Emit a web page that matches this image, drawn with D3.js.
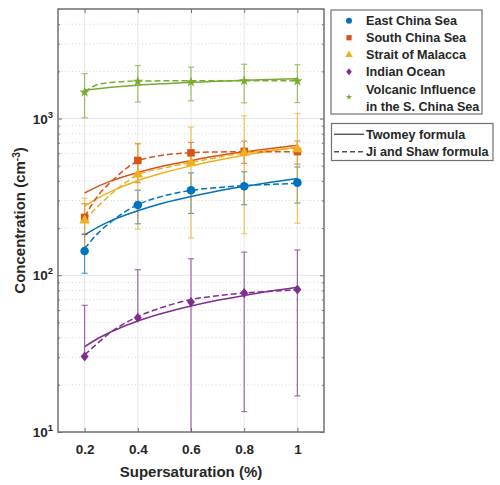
<!DOCTYPE html>
<html>
<head>
<meta charset="utf-8">
<script src="https://cdn.jsdelivr.net/npm/d3@7"></script>
<style>
  body { margin: 0; background: #fff; }
  svg text { font-family: "Liberation Sans", Arial, Helvetica, sans-serif; font-weight: bold; fill: #262626; }
</style>
</head>
<body>
<div id="plot"></div>
<script>
const SS = [0.2, 0.4, 0.6, 0.8, 1.0];
const NAMES = ["East China Sea", "South China Sea", "Strait of Malacca", "Indian Ocean", "Volcanic Influence"];
const COLORS = ["#0072BD", "#D95319", "#EDB120", "#7E2F8E", "#77AC30"];
const SHAPES = ["circle", "square", "triangle", "diamond", "star"];

// measured means and +/- errors
const eastMean = [143, 281, 349, 370, 390];
const eastErr = [40, 68, 101, 88, 101];
const southMean = [234, 540, 604, 617, 615];
const southErr = [52, 150, 100, 100, 103];
const malaccaMean = [226, 445, 528, 612, 646];
const malaccaErr = [84, 248, 355, 428, 431];
const indianMean = [30.3, 53.5, 67.5, 77, 81];
const indianErr = [34, 55, 60, 63.5, 64];
const volcanicMean = [1473, 1727, 1712, 1740, 1735];
const volcanicErr = [461, 452, 415, 480, 470];

// fitted curves
const FIT_S = [0.2, 0.25, 0.3, 0.4, 0.5, 0.6, 0.7, 0.8, 0.9, 1.0];
const eastTwomey = [181, 203, 223, 258, 290, 318, 345, 369, 392, 414];
const southTwomey = [335, 369, 400, 453, 500, 539, 578, 613, 645, 675];
const malaccaTwomey = [276, 311, 343, 401, 452, 499, 542, 583, 621, 657];
const indianTwomey = [35, 39.5, 43.6, 51.1, 57.6, 63.6, 69.2, 74.4, 79.4, 84];
const volcanicTwomey = [1515, 1551, 1582, 1632, 1669, 1701, 1730, 1754, 1775, 1795];
const eastJiShaw = [148, 185, 220, 282, 322, 348, 363, 373, 380, 386];
const southJiShaw = [236, 322, 395, 535, 585, 605, 612, 614, 614, 613];
const malaccaJiShaw = [226, 275, 330, 437, 485, 525, 565, 603, 630, 648];
const indianJiShaw = [31, 37, 43.5, 54.5, 63, 70, 74, 77, 79, 80.5];
const volcanicJiShaw = [1480, 1650, 1700, 1735, 1740, 1742, 1743, 1744, 1745, 1745];

const X_TICKS = [0.2, 0.4, 0.6, 0.8, 1];
const Y_TICKS = [10, 100, 1000];

const means = [eastMean, southMean, malaccaMean, indianMean, volcanicMean];
const errs = [eastErr, southErr, malaccaErr, indianErr, volcanicErr];
const twomey = [eastTwomey, southTwomey, malaccaTwomey, indianTwomey, volcanicTwomey];
const jiShaw = [eastJiShaw, southJiShaw, malaccaJiShaw, indianJiShaw, volcanicJiShaw];

const width = 500, height = 485;
const pL = 58, pR = 324, pT = 9, pB = 432;

const svg = d3.select("#plot").append("svg")
  .attr("width", width).attr("height", height);

const x = d3.scaleLinear().domain([0.1, 1.1]).range([pL, pR]);
const y = d3.scaleLog().domain([10, 5000]).range([pB, pT]);

svg.append("defs").append("clipPath").attr("id", "clip")
  .append("rect").attr("x", pL).attr("y", pT)
  .attr("width", pR - pL).attr("height", pB - pT);

// minor y values
let minor = [];
[10, 100, 1000].forEach(function(d) {
  for (let k = 2; k <= 9; k++) if (d * k <= 5000) minor.push(d * k);
});

// grid
const grid = svg.append("g");
grid.selectAll(".mg").data(minor).enter().append("line")
  .attr("x1", pL).attr("x2", pR)
  .attr("y1", d => y(d)).attr("y2", d => y(d))
  .attr("stroke", "#d4d4d4").attr("stroke-dasharray", "1,2.5").attr("stroke-width", 1);
grid.selectAll(".xg").data(X_TICKS).enter().append("line")
  .attr("x1", d => x(d)).attr("x2", d => x(d))
  .attr("y1", pT).attr("y2", pB)
  .attr("stroke", "#e6e6e6").attr("stroke-width", 1);
grid.selectAll(".yg").data([100, 1000]).enter().append("line")
  .attr("x1", pL).attr("x2", pR)
  .attr("y1", d => y(d)).attr("y2", d => y(d))
  .attr("stroke", "#e3e3e3").attr("stroke-width", 1);

// error bars
const plot = svg.append("g").attr("clip-path", "url(#clip)");
means.forEach(function(m, i) {
  const g = plot.append("g").attr("stroke", COLORS[i]).attr("stroke-width", 1.2).attr("opacity", 0.7);
  SS.forEach(function(s, j) {
    const hi = m[j] + errs[i][j];
    const lo = m[j] - errs[i][j];
    const yLo = lo > 0 ? y(lo) : y(m[j]);
    const cx = x(s);
    g.append("line").attr("x1", cx).attr("x2", cx).attr("y1", y(hi)).attr("y2", Math.min(yLo, pB + 5));
    g.append("line").attr("x1", cx - 3).attr("x2", cx + 3).attr("y1", y(hi)).attr("y2", y(hi));
    if (lo > 0) g.append("line").attr("x1", cx - 3).attr("x2", cx + 3).attr("y1", y(lo)).attr("y2", y(lo));
  });
});

// fitted curves
const line = d3.line().x(d => x(d[0])).y(d => y(d[1])).curve(d3.curveMonotoneX);
twomey.forEach(function(v, i) {
  plot.append("path").datum(FIT_S.map((s, j) => [s, v[j]]))
    .attr("d", line).attr("fill", "none").attr("stroke", COLORS[i]).attr("stroke-width", 1.5);
});
jiShaw.forEach(function(v, i) {
  plot.append("path").datum(FIT_S.map((s, j) => [s, v[j]]))
    .attr("d", line).attr("fill", "none").attr("stroke", COLORS[i]).attr("stroke-width", 1.5)
    .attr("stroke-dasharray", "6,3");
});

function marker(g, shape, cx, cy, color, scale) {
  scale = scale || 1;
  if (shape === "circle") {
    g.append("circle").attr("cx", cx).attr("cy", cy).attr("r", 4.3 * scale).attr("fill", color);
  } else if (shape === "square") {
    const s = 7.5 * scale;
    g.append("rect").attr("x", cx - s / 2).attr("y", cy - s / 2).attr("width", s).attr("height", s).attr("fill", color);
  } else if (shape === "triangle") {
    g.append("path").attr("transform", `translate(${cx},${cy + 0.8 * scale})`)
      .attr("d", d3.symbol(d3.symbolTriangle, 48 * scale * scale)()).attr("fill", color);
  } else if (shape === "diamond") {
    const s = 5 * scale;
    g.append("path").attr("d", `M${cx},${cy - s}L${cx + s * 0.8},${cy}L${cx},${cy + s}L${cx - s * 0.8},${cy}Z`).attr("fill", color);
  } else {
    g.append("path").attr("transform", `translate(${cx},${cy})`)
      .attr("d", d3.symbol(d3.symbolStar, 34 * scale * scale)()).attr("fill", color);
  }
}

// markers
const mk = svg.append("g");
means.forEach(function(m, i) {
  SS.forEach(function(s, j) { marker(mk, SHAPES[i], x(s), y(m[j]), COLORS[i]); });
});

// axes box
const axisColor = "#707070";
svg.append("rect").attr("x", pL).attr("y", pT).attr("width", pR - pL).attr("height", pB - pT)
  .attr("fill", "none").attr("stroke", axisColor).attr("stroke-width", 1.5);

const xb = svg.append("g").attr("transform", `translate(0,${pB})`)
  .call(d3.axisBottom(x).tickValues(X_TICKS).tickSize(-4).tickPadding(12).tickFormat(d3.format("")));
const xt = svg.append("g").attr("transform", `translate(0,${pT})`)
  .call(d3.axisTop(x).tickValues(X_TICKS).tickSize(-4).tickFormat(""));
const yl = svg.append("g").attr("transform", `translate(${pL},0)`)
  .call(d3.axisLeft(y).tickValues(Y_TICKS).tickSize(-4).tickFormat(""));
const yr = svg.append("g").attr("transform", `translate(${pR},0)`)
  .call(d3.axisRight(y).tickValues(Y_TICKS).tickSize(-4).tickFormat(""));
const ylm = svg.append("g").attr("transform", `translate(${pL},0)`)
  .call(d3.axisLeft(y).tickValues(minor).tickSize(-2).tickFormat(""));
const yrm = svg.append("g").attr("transform", `translate(${pR},0)`)
  .call(d3.axisRight(y).tickValues(minor).tickSize(-2).tickFormat(""));
[xb, xt, yl, yr, ylm, yrm].forEach(function(a) {
  a.select(".domain").remove();
  a.selectAll("line").attr("stroke", axisColor);
});
xb.selectAll("text").attr("font-size", 13.5).attr("fill", "#262626")
  .style("font-family", "'Liberation Sans', Arial, sans-serif").style("font-weight", "bold");

// y tick labels with superscripts
Y_TICKS.forEach(function(d) {
  const t = svg.append("text").attr("x", 53).attr("y", y(d) + 5).attr("text-anchor", "end").attr("font-size", 13.5);
  t.append("tspan").text("10");
  t.append("tspan").attr("dy", -6).attr("font-size", 9.5).text(Math.round(Math.log10(d)));
});

// axis titles
svg.append("text").attr("x", (pL + pR) / 2).attr("y", 477).attr("text-anchor", "middle")
  .attr("font-size", 15).text("Supersaturation (%)");
const yt = svg.append("text").attr("transform", `translate(25,${(pT + pB) / 2}) rotate(-90)`)
  .attr("text-anchor", "middle").attr("font-size", 15);
yt.append("tspan").text("Concentration (cm");
yt.append("tspan").attr("dy", -5).attr("font-size", 10).text("-3");
yt.append("tspan").attr("dy", 5).text(")");

// legend 1: sites
const lg = svg.append("g");
lg.append("rect").attr("x", 331).attr("y", 10).attr("width", 151).attr("height", 104)
  .attr("fill", "#fff").attr("stroke", axisColor).attr("stroke-width", 1.2);
const legY = [20.7, 37.7, 54.3, 71.7, 97];
const legLabels = [["East China Sea"], ["South China Sea"], ["Strait of Malacca"], ["Indian Ocean"], ["Volcanic Influence", "in the S. China Sea"]];
legLabels.forEach(function(lab, i) {
  marker(lg, SHAPES[i], 349, legY[i], COLORS[i], i === 4 ? 0.6 : 0.7);
  if (lab.length === 1) {
    lg.append("text").attr("x", 366).attr("y", legY[i] + 4.5).attr("font-size", 12.6).text(lab[0]);
  } else {
    lg.append("text").attr("x", 366).attr("y", 89.3 + 4.5).attr("font-size", 12.6).text(lab[0]);
    lg.append("text").attr("x", 366).attr("y", 106 + 4.5).attr("font-size", 12.6).text(lab[1]);
  }
});

// legend 2: formulas
lg.append("rect").attr("x", 331.5).attr("y", 123.5).attr("width", 161.5).attr("height", 37)
  .attr("fill", "#fff").attr("stroke", axisColor).attr("stroke-width", 1.2);
[["Twomey formula", null, 134.3], ["Ji and Shaw formula", "5,3", 151.7]].forEach(function(e) {
  const l = lg.append("line").attr("x1", 334).attr("x2", 364).attr("y1", e[2]).attr("y2", e[2])
    .attr("stroke", "#555").attr("stroke-width", 1.4);
  if (e[1]) l.attr("stroke-dasharray", e[1]);
  lg.append("text").attr("x", 366).attr("y", e[2] + 4.5).attr("font-size", 12.6).text(e[0]);
});
</script>
</body>
</html>
